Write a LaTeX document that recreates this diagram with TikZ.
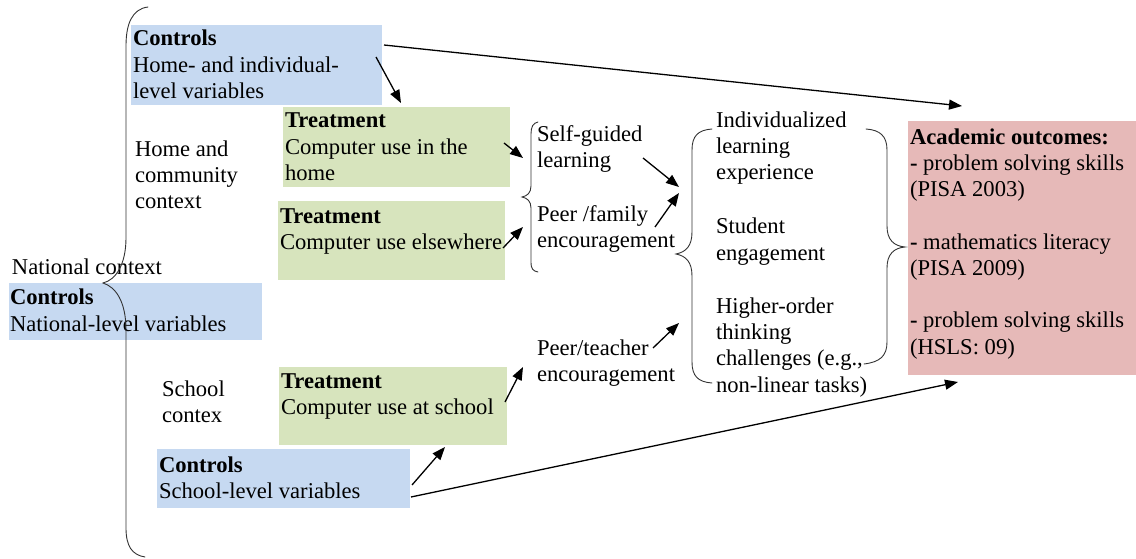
\documentclass[tikz,border=0pt]{standalone}
\usepackage{fontspec}
\setmainfont{Liberation Serif}
\usetikzlibrary{arrows.meta}

\definecolor{ctlblue}{RGB}{198,217,241}
\definecolor{trtgreen}{RGB}{215,228,189}
\definecolor{outpink}{RGB}{230,185,184}

\begin{document}
\begin{tikzpicture}[x=1pt,y=-1pt,
  panel/.style={inner sep=0pt, outer sep=0pt, anchor=north west},
  ctlbox/.style={panel, fill=ctlblue},
  trtbox/.style={panel, fill=trtgreen},
  outbox/.style={panel, fill=outpink},
  % texts are placed by the baseline of their last line
  txt/.style={anchor=base west, inner sep=0pt, outer sep=0pt, align=left,
              font=\fontsize{22.6}{26.2}\selectfont},
  link/.style={line width=1.3pt, -{Triangle[length=13pt,width=10pt]}},
  bracket/.style={line width=0.9pt, draw=black!80, line cap=round}]

\useasboundingbox (0,0) rectangle (1136,559);

% ---------- shaded panels ----------
\node[ctlbox, minimum width=251pt, minimum height=80pt] (ctlhome) at (131,25) {};
\node[trtbox, minimum width=227pt, minimum height=80pt] (trthome) at (283,107) {};
\node[trtbox, minimum width=227pt, minimum height=79pt] (trtelse) at (278,201) {};
\node[ctlbox, minimum width=253pt, minimum height=57pt] (ctlnat) at (9,283) {};
\node[trtbox, minimum width=228pt, minimum height=78pt] (trtschool) at (279,367) {};
\node[ctlbox, minimum width=253pt, minimum height=59pt] (ctlschool) at (157,449) {};
\node[outbox, minimum width=228pt, minimum height=254pt] (outc) at (908,121) {};

% ---------- texts ----------
\node[txt] (tctlhome) at (133,98.4) {\textbf{Controls}\\Home- and individual-\\level variables};
\node[txt] (ttrthome) at (285,180.4) {\textbf{Treatment}\\Computer use in the\\home};
\node[txt] (ttrtelse) at (280,249.2) {\textbf{Treatment}\\Computer use elsewhere};
\node[txt] (tctlnat) at (10,331) {\textbf{Controls}\\National-level variables};
\node[txt] (ttrtschool) at (281,414.2) {\textbf{Treatment}\\Computer use at school};
\node[txt] (tctlschool) at (159,498.2) {\textbf{Controls}\\School-level variables};

\node[txt] (homectx) at (135,208.5) {Home and\\community\\context};
\node[txt] (natctx) at (12,274) {National context};
\node[txt] (schoolctx) at (162,422.2) {School\\contex};

\node[txt] (selfg) at (537,167.5) {Self-guided\\learning};
\node[txt] (peerfam) at (537,247.5) {Peer /family\\encouragement};
\node[txt] (peerteach) at (537,381.5) {Peer/teacher\\encouragement};

\node[txt] (indiv) at (716,179.5) {Individualized\\learning\\experience};
\node[txt] (engage) at (716,260) {Student\\engagement};
\node[txt] (higher) at (716,392) {Higher-order\\thinking\\challenges (e.g.,\\non-linear tasks)};

\node[txt] (touts) at (910,354) {\textbf{Academic outcomes:}\\
  \textbf{-} problem solving skills\\(PISA 2003)\\[26.2pt]
  \textbf{-} mathematics literacy\\(PISA 2009)\\[26.2pt]
  \textbf{-} problem solving skills\\(HSLS: 09)};

% ---------- braces ----------
% national brace enclosing home/community and school contexts
\draw[bracket] (148,7) .. controls (132,9) and (126,24) .. (126,46)
  -- (126,238) .. controls (126,264) and (116,280) .. (103,283)
  .. controls (116,287) and (126,302) .. (126,330)
  -- (126,528) .. controls (126,546) and (132,555) .. (145,557);
% mechanisms in the home
\draw[bracket] (538,122) .. controls (533,123) and (531,127) .. (531,134)
  -- (531,186) .. controls (531,193) and (527,196) .. (522,197)
  .. controls (527,198) and (531,201) .. (531,208)
  -- (531,262) .. controls (531,269) and (533,271) .. (538,272);
% mediators
\draw[bracket] (712,129) .. controls (698,130) and (692,136) .. (692,150)
  -- (692,232) .. controls (692,246) and (686,252) .. (676,254)
  .. controls (686,256) and (692,262) .. (692,276)
  -- (692,362) .. controls (692,376) and (698,382) .. (712,383);
% outcomes
\draw[bracket] (866,129) .. controls (880,130) and (887,136) .. (887,150)
  -- (887,226) .. controls (887,240) and (894,246) .. (905,247)
  .. controls (894,248) and (887,254) .. (887,268)
  -- (887,342) .. controls (887,356) and (880,362) .. (864,364);

% ---------- connector ends ----------
\coordinate (a1s) at (384,45);   \coordinate (a1e) at (962,106);
\coordinate (a2s) at (376,57);   \coordinate (a2e) at (401,103);
\coordinate (a3s) at (504,143);  \coordinate (a3e) at (523,158);
\coordinate (a4s) at (503,248);  \coordinate (a4e) at (523,227);
\coordinate (a5s) at (643,158);  \coordinate (a5e) at (679,187);
\coordinate (a6s) at (655,227);  \coordinate (a6e) at (679,193);
\coordinate (a7s) at (653,348);  \coordinate (a7e) at (679,323);
\coordinate (a8s) at (505,402);  \coordinate (a8e) at (523,367);
\coordinate (a9s) at (412,485);  \coordinate (a9e) at (445,447);
\coordinate (a10s) at (411,497); \coordinate (a10e) at (958,382);

\draw[link] (a1s) -- (a1e);
\draw[link] (a2s) -- (a2e);
\draw[link] (a3s) -- (a3e);
\draw[link] (a4s) -- (a4e);
\draw[link] (a5s) -- (a5e);
\draw[link] (a6s) -- (a6e);
\draw[link] (a7s) -- (a7e);
\draw[link] (a8s) -- (a8e);
\draw[link] (a9s) -- (a9e);
\draw[link] (a10s) -- (a10e);
\end{tikzpicture}
\end{document}
